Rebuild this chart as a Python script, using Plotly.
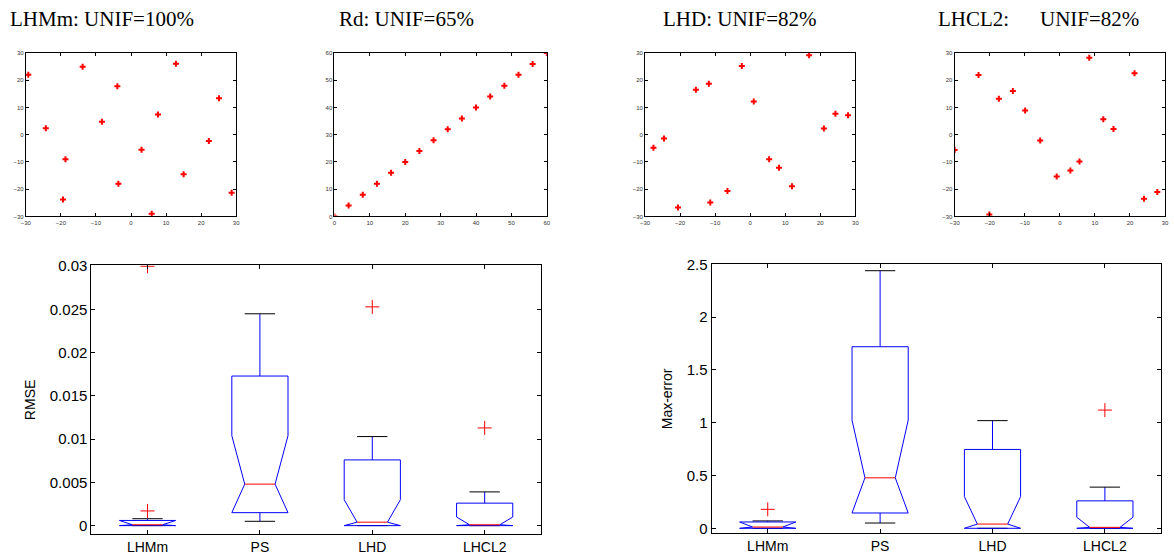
import plotly.graph_objects as go

W, H = 1174, 558

# ---------------- top row: sample designs ----------------
lhmm_x = [-29.3, -13.8, 12.8, -3.9, 25.1, 7.7, -8.3, -24.3, 22.2, 3.0, -18.7, 15.0, -3.6, -19.4, 28.7, 5.9]
lhmm_y = [22.0, 25.0, 26.1, 17.8, 13.4, 7.4, 4.8, 2.4, -2.3, -5.5, -9.0, -14.5, -18.0, -23.8, -21.3, -29.0]

rd_x = [0, 4, 8, 12, 16, 20, 24, 28, 32, 36, 40, 44, 48, 52, 56, 60]
rd_y = [0, 4, 8, 12, 16, 20, 24, 28, 32, 36, 40, 44, 48, 52, 56, 60]

lhd_x = [-27.6, -24.6, -15.5, -11.8, -2.4, 1.0, 16.8, 21.0, 24.3, 27.9, 5.4, 8.2, 11.9, -6.5, -11.4, -20.6]
lhd_y = [-4.8, -1.4, 16.5, 18.7, 25.2, 12.2, 29.2, 2.3, 7.7, 7.2, -9.0, -12.1, -18.9, -20.7, -24.9, -26.7]

lhcl2_x = [-30.0, -23.2, -20.1, -17.4, -13.4, -9.9, -5.6, -0.9, 3.0, 5.6, 8.4, 12.4, 15.3, 21.3, 24.0, 27.8]
lhcl2_y = [-5.6, 21.9, -29.3, 13.2, 16.1, 8.9, -2.1, -15.3, -13.1, -9.8, 28.3, 5.7, 2.1, 22.6, -23.5, -21.0]

design_titles = ["LHMm: UNIF=100%", "Rd: UNIF=65%", "LHD: UNIF=82%", "LHCL2:", "UNIF=82%"]

# ---------------- bottom row: box statistics ----------------
cats = ["LHMm", "PS", "LHD", "LHCL2"]

rmse_lower = [0.0, 0.0005, 0.0, 0.0]
rmse_q1 = [0.0, 0.0015, 0.0, 0.0]
rmse_median = [0.0001, 0.0048, 0.0004, 0.0001]
rmse_q3 = [0.0006, 0.0173, 0.0076, 0.0026]
rmse_upper = [0.0008, 0.0245, 0.0103, 0.0039]
rmse_notch = [0.0005, 0.0056, 0.0026, 0.0009]
rmse_out_cat = ["LHMm", "LHMm", "LHD", "LHCL2"]
rmse_out_val = [0.0017, 0.0300, 0.0253, 0.0113]
rmse_ticks = [0, 0.005, 0.01, 0.015, 0.02, 0.025, 0.03]
rmse_ticktext = ["0", "0.005", "0.01", "0.015", "0.02", "0.025", "0.03"]

max_lower = [0.0, 0.05, 0.0, 0.0]
max_q1 = [0.0, 0.145, 0.0, 0.0]
max_median = [0.012, 0.478, 0.04, 0.009]
max_q3 = [0.06, 1.72, 0.747, 0.26]
max_upper = [0.07, 2.44, 1.02, 0.39]
max_notch = [0.05, 0.547, 0.26, 0.096]
max_out_cat = ["LHMm", "LHCL2"]
max_out_val = [0.18, 1.12]
max_ticks = [0, 0.5, 1, 1.5, 2, 2.5]
max_ticktext = ["0", "0.5", "1", "1.5", "2", "2.5"]

BLUE = "#0000ff"
RED = "#ff0000"

fig = go.Figure()

# scatter panels
designs = [(lhmm_x, lhmm_y), (rd_x, rd_y), (lhd_x, lhd_y), (lhcl2_x, lhcl2_y)]
for i, (dx, dy) in enumerate(designs):
    sfx = "" if i == 0 else str(i + 1)
    fig.add_trace(go.Scatter(
        x=dx, y=dy, mode="markers", xaxis="x" + sfx, yaxis="y" + sfx,
        marker=dict(symbol="cross", size=5, color=RED, line=dict(width=0)),
        showlegend=False, hoverinfo="x+y"))

pos = [i + 1 for i in range(len(cats))]
W_BOX, W_NOTCH, W_CAP = 0.25, 0.135, 0.135


def add_boxplot(lower, q1, med, q3, upper, span, out_cat, out_val, xa, ya):
    # whiskers
    wx, wy = [], []
    cx, cy = [], []
    for p, lo, a, b, hi in zip(pos, lower, q1, q3, upper):
        wx += [p, p, None, p, p, None]
        wy += [b, hi, None, a, lo, None]
        cx += [p - W_CAP, p + W_CAP, None, p - W_CAP, p + W_CAP, None]
        cy += [hi, hi, None, lo, lo, None]
    fig.add_trace(go.Scatter(x=wx, y=wy, mode="lines", xaxis=xa, yaxis=ya,
                             line=dict(color=BLUE, width=1), showlegend=False, hoverinfo="skip"))
    fig.add_trace(go.Scatter(x=cx, y=cy, mode="lines", xaxis=xa, yaxis=ya,
                             line=dict(color="black", width=1), showlegend=False, hoverinfo="skip"))
    # notched boxes
    bx, by = [], []
    for p, a, m, b, s in zip(pos, q1, med, q3, span):
        nlo = max(m - s, a)
        nhi = min(m + s, b)
        bx += [p - W_BOX, p - W_BOX, p - W_NOTCH, p - W_BOX, p - W_BOX,
               p + W_BOX, p + W_BOX, p + W_NOTCH, p + W_BOX, p + W_BOX, p - W_BOX, None]
        by += [a, nlo, m, nhi, b, b, nhi, m, nlo, a, a, None]
    fig.add_trace(go.Scatter(x=bx, y=by, mode="lines", xaxis=xa, yaxis=ya,
                             line=dict(color=BLUE, width=1), showlegend=False, hoverinfo="skip"))
    # medians
    mx, my = [], []
    for p, m in zip(pos, med):
        mx += [p - W_NOTCH, p + W_NOTCH, None]
        my += [m, m, None]
    fig.add_trace(go.Scatter(x=mx, y=my, mode="lines", xaxis=xa, yaxis=ya,
                             line=dict(color=RED, width=1), showlegend=False, hoverinfo="skip"))
    # outliers
    ox = [pos[cats.index(c)] for c in out_cat]
    fig.add_trace(go.Scatter(x=ox, y=out_val, mode="markers", xaxis=xa, yaxis=ya,
                             marker=dict(symbol="cross-thin-open", size=10, color=RED,
                                         line=dict(color=RED, width=1)),
                             showlegend=False))


add_boxplot(rmse_lower, rmse_q1, rmse_median, rmse_q3, rmse_upper, rmse_notch,
            rmse_out_cat, rmse_out_val, "x5", "y5")
add_boxplot(max_lower, max_q1, max_median, max_q3, max_upper, max_notch,
            max_out_cat, max_out_val, "x6", "y6")


def px_dom(a, b, total):
    return [a / total, b / total]


def py_dom(top, bottom):
    return [1 - bottom / H, 1 - top / H]


small_ax = dict(showline=True, linecolor="black", linewidth=1, mirror="allticks",
                ticks="inside", ticklen=3, tickcolor="black", showgrid=False, zeroline=False,
                tickfont=dict(size=6, color="#333333", family="Liberation Sans, Arial, sans-serif"),
                dtick=10, tick0=0)

scatter_x = [(21, 233), (332, 546), (645, 857), (957, 1169)]
scatter_ranges = [([-30, 30], [-30, 30]), ([0, 60], [0, 60]), ([-30, 30], [-30, 30]), ([-30, 30], [-30, 30])]
layout_axes = {}
for i, ((a, b), (xr, yr)) in enumerate(zip(scatter_x, scatter_ranges)):
    n = "" if i == 0 else str(i + 1)
    layout_axes["xaxis" + n] = dict(small_ax, domain=px_dom(a, b, W), range=xr, anchor="y" + n)
    layout_axes["yaxis" + n] = dict(small_ax, domain=py_dom(45, 212), range=yr, anchor="x" + n)

big_font = dict(size=14, color="black", family="Liberation Sans, Arial, sans-serif")
ytick_font = dict(size=15, color="black", family="Liberation Sans, Arial, sans-serif")
big_ax = dict(showline=True, linecolor="black", linewidth=1, mirror="allticks",
              ticks="inside", ticklen=4, tickcolor="black", showgrid=False, zeroline=False,
              tickfont=big_font)

layout_axes["xaxis5"] = dict(big_ax, domain=px_dom(87, 540, W), range=[0.5, 4.5],
                             tickvals=pos, ticktext=cats, anchor="y5")
layout_axes["yaxis5"] = dict(big_ax, domain=py_dom(262, 537), range=[-0.00102, 0.0301],
                             tickvals=rmse_ticks, ticktext=rmse_ticktext, anchor="x5",
                             tickfont=ytick_font,
                             title=dict(text="RMSE", font=big_font, standoff=10))
layout_axes["xaxis6"] = dict(big_ax, domain=px_dom(712, 1165, W), range=[0.5, 4.5],
                             tickvals=pos, ticktext=cats, anchor="y6")
layout_axes["yaxis6"] = dict(big_ax, domain=py_dom(261, 536), range=[-0.049, 2.5],
                             tickvals=max_ticks, ticktext=max_ticktext, anchor="x6",
                             tickfont=ytick_font,
                             title=dict(text="Max-error", font=big_font, standoff=10))

title_font = dict(family="Liberation Serif, Times New Roman, serif", size=21, color="black")
title_x = [3, 335, 661, 938, 1041]
annotations = [dict(text=t, x=xp / W, y=1 - 10 / H, xref="paper", yref="paper",
                    xanchor="left", yanchor="middle", showarrow=False, font=title_font)
               for t, xp in zip(design_titles, title_x)]

fig.update_layout(width=W, height=H, margin=dict(l=0, r=0, t=0, b=0),
                  paper_bgcolor="white", plot_bgcolor="white",
                  annotations=annotations, showlegend=False, **layout_axes)

fig.write_html("out.html", config={"displayModeBar": False},
               post_script="document.body.style.margin='0';document.body.style.overflow='hidden';")
